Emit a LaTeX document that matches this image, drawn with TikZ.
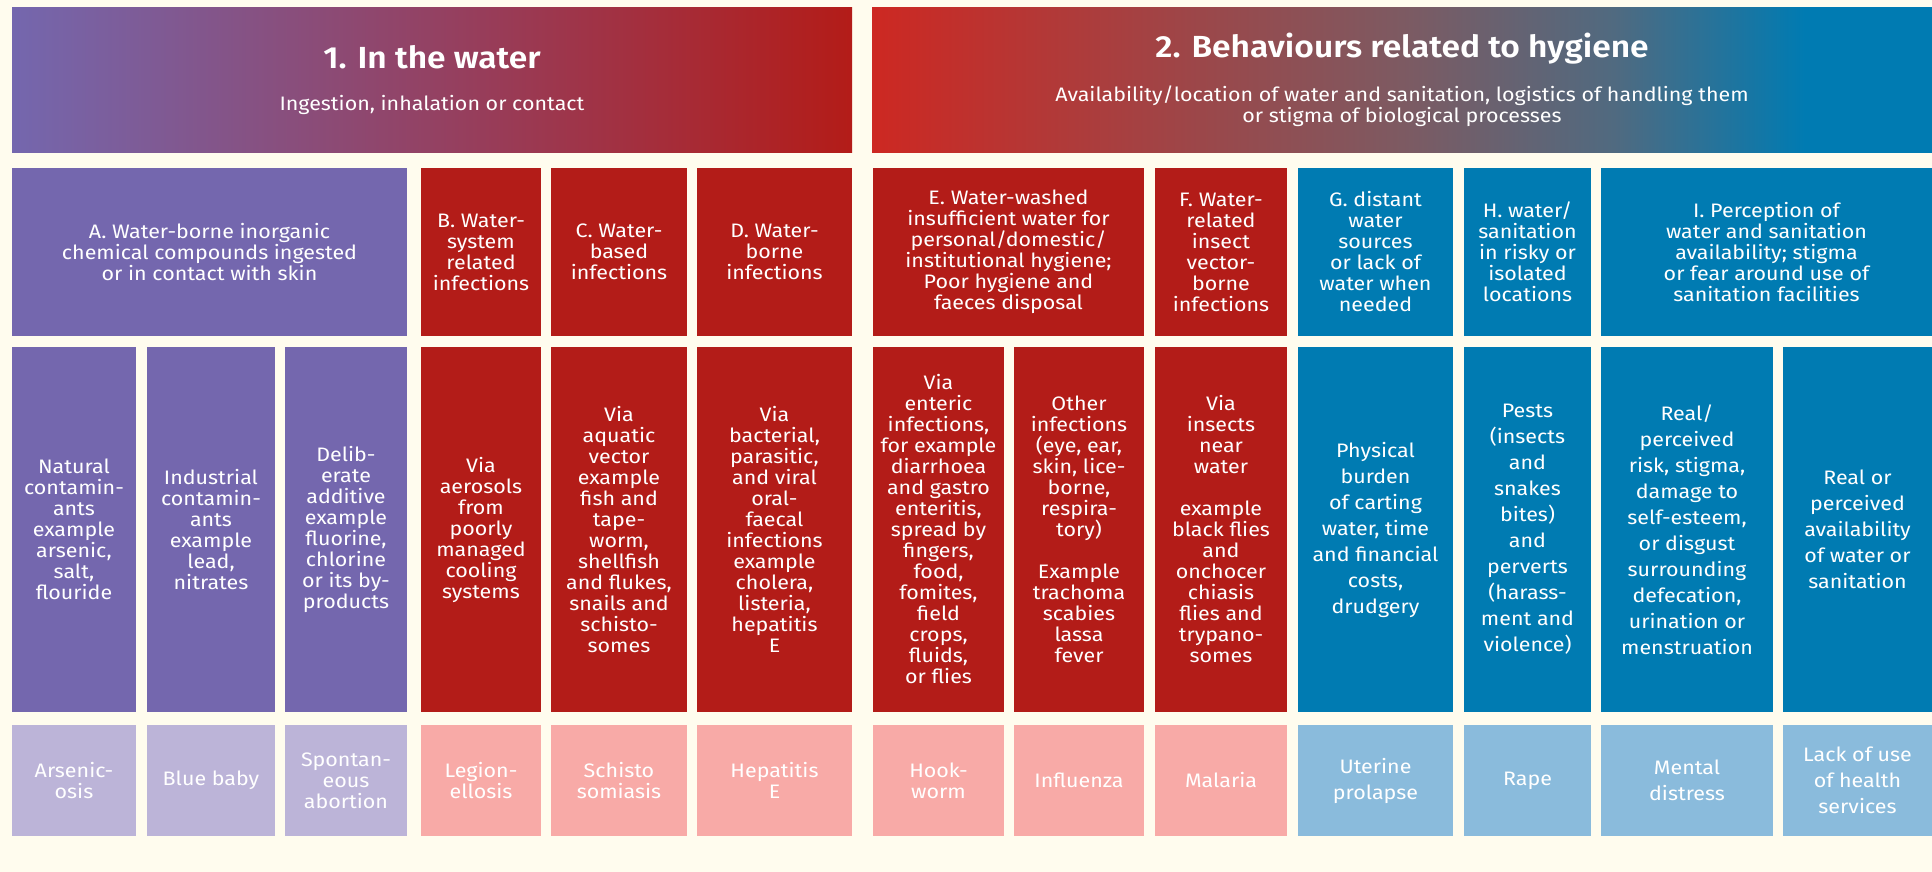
\documentclass[tikz,border=0pt]{standalone}
\usepackage{fontspec}
\setmainfont{Fira Sans}[FakeStretch=1.1,BoldFont={Fira Sans SemiBold}]
\usepackage{tikz}

\definecolor{purpA}{RGB}{116,103,174}
\definecolor{purpB}{RGB}{188,180,216}
\definecolor{redA}{RGB}{179,28,24}
\definecolor{redB}{RGB}{248,170,167}
\definecolor{blueA}{RGB}{0,123,178}
\definecolor{blueB}{RGB}{138,187,220}
\definecolor{cream}{RGB}{255,252,238}
\definecolor{hred}{RGB}{205,40,34}
\definecolor{hmid}{RGB}{125,90,98}
\definecolor{hmidb}{RGB}{80,106,128}
\pgfdeclarehorizontalshading{hygshade}{100bp}{color(0bp)=(hred); color(25bp)=(hred); color(50bp)=(hmid); color(60bp)=(hmidb); color(69bp)=(blueA); color(100bp)=(blueA)}

\newcommand\celltext{\fontsize{19.5}{21}\selectfont}
\newcommand\bluetext{\fontsize{19.5}{26}\selectfont}
\newcommand\headtitle{\fontsize{30.5}{34}\selectfont\bfseries}

\begin{document}
\begin{tikzpicture}[x=1pt,y=-1pt,
  cell/.style={rectangle,inner sep=0pt,text=white,align=center,font=\celltext},
  headbox/.style={cell,minimum height=144},
  catbox/.style={cell,minimum height=168},
  routebox/.style={cell,minimum height=365},
  effectbox/.style={cell,minimum height=111}]

\fill[cream] (0,0) rectangle (1932,872);

% Headers
\node[headbox,left color=purpA,right color=redA,minimum width=840] (water) at (432,80)
{{\headtitle 1. In the water}\\[21pt]Ingestion, inhalation or contact};
\node[headbox,shade,shading=hygshade,minimum width=1060] (hygiene) at (1402,80)
{{\headtitle 2. Behaviours related to hygiene}\\[21pt]Availability/location of water and sanitation, logistics of handling them\\or stigma of biological processes};

% Categories
\node[catbox,fill=purpA,minimum width=395] (catA) at (209.5,252) {A. Water-borne inorganic\\chemical compounds ingested\\or in contact with skin};
\node[catbox,fill=redA,minimum width=120] (catB) at (481,252) {B. Water-\\system\\related\\infections};
\node[catbox,fill=redA,minimum width=136] (catC) at (619,252) {C. Water-\\based\\infections};
\node[catbox,fill=redA,minimum width=155] (catD) at (774.5,252) {D. Water-\\borne\\infections};
\node[catbox,fill=redA,minimum width=271] (catE) at (1008.5,252) {E. Water-washed\\insufficient water for\\personal/domestic/\\institutional hygiene;\\Poor hygiene and\\faeces disposal};
\node[catbox,fill=redA,minimum width=132] (catF) at (1221,252) {F. Water-\\related\\insect\\vector-\\borne\\infections};
\node[catbox,fill=blueA,minimum width=155] (catG) at (1375.5,252) {G. distant\\water\\sources\\or lack of\\water when\\needed};
\node[catbox,fill=blueA,minimum width=127] (catH) at (1527.5,252) {H. water/\\sanitation\\in risky or\\isolated\\locations};
\node[catbox,fill=blueA,minimum width=331] (catI) at (1766.5,252) {I. Perception of\\water and sanitation\\availability; stigma\\or fear around use of\\sanitation facilities};

% Routes
\node[routebox,fill=purpA,minimum width=124] (routeAa) at (74,529.5) {Natural\\contamin-\\ants\\example\\arsenic,\\salt,\\flouride};
\node[routebox,fill=purpA,minimum width=128] (routeAb) at (211,529.5) {Industrial\\contamin-\\ants\\example\\lead,\\nitrates};
\node[routebox,fill=purpA,minimum width=122] (routeAc) at (346,529.5) {Delib-\\erate\\additive\\example\\fluorine,\\chlorine\\or its by-\\products};
\node[routebox,fill=redA,minimum width=120] (routeB) at (481,529.5) {Via\\aerosols\\from\\poorly\\managed\\cooling\\systems};
\node[routebox,fill=redA,minimum width=136] (routeC) at (619,529.5) {Via\\aquatic\\vector\\example\\fish and\\tape-\\worm,\\shellfish\\and flukes,\\snails and\\schisto-\\somes};
\node[routebox,fill=redA,minimum width=155] (routeD) at (774.5,529.5) {Via\\bacterial,\\parasitic,\\and viral\\oral-\\faecal\\infections\\example\\cholera,\\listeria,\\hepatitis\\E};
\node[routebox,fill=redA,minimum width=131] (routeEa) at (938.5,529.5) {Via\\enteric\\infections,\\for example\\diarrhoea\\and gastro\\enteritis,\\spread by\\fingers,\\food,\\fomites,\\field\\crops,\\fluids,\\or flies};
\node[routebox,fill=redA,minimum width=130] (routeEb) at (1079,529.5) {Other\\infections\\(eye, ear,\\skin, lice-\\borne,\\respira-\\tory)\\[21pt]Example\\trachoma\\scabies\\lassa\\fever};
\node[routebox,fill=redA,minimum width=132] (routeF) at (1221,529.5) {Via\\insects\\near\\water\\[21pt]example\\black flies\\and\\onchocer\\chiasis\\flies and\\trypano-\\somes};
\node[routebox,fill=blueA,font=\bluetext,minimum width=155] (routeG) at (1375.5,529.5) {Physical\\burden\\of carting\\water, time\\and financial\\costs,\\drudgery};
\node[routebox,fill=blueA,font=\bluetext,minimum width=127] (routeH) at (1527.5,529.5) {Pests\\(insects\\and\\snakes\\bites)\\and\\perverts\\(harass-\\ment and\\violence)};
\node[routebox,fill=blueA,font=\bluetext,minimum width=172] (routeIa) at (1687,529.5) {Real/\\perceived\\risk, stigma,\\damage to\\self-esteem,\\or disgust\\surrounding\\defecation,\\urination or\\menstruation};
\node[routebox,fill=blueA,font=\bluetext,minimum width=149] (routeIb) at (1857.5,529.5) {Real or\\perceived\\availability\\of water or\\sanitation};

% Health effects
\node[effectbox,fill=purpB,minimum width=124] (effAa) at (74,780.5) {Arsenic-\\osis};
\node[effectbox,fill=purpB,minimum width=128] (effAb) at (211,780.5) {Blue baby};
\node[effectbox,fill=purpB,minimum width=122] (effAc) at (346,780.5) {Spontan-\\eous\\abortion};
\node[effectbox,fill=redB,minimum width=120] (effB) at (481,780.5) {Legion-\\ellosis};
\node[effectbox,fill=redB,minimum width=136] (effC) at (619,780.5) {Schisto\\somiasis};
\node[effectbox,fill=redB,minimum width=155] (effD) at (774.5,780.5) {Hepatitis\\E};
\node[effectbox,fill=redB,minimum width=131] (effEa) at (938.5,780.5) {Hook-\\worm};
\node[effectbox,fill=redB,minimum width=130] (effEb) at (1079,780.5) {Influenza};
\node[effectbox,fill=redB,minimum width=132] (effF) at (1221,780.5) {Malaria};
\node[effectbox,fill=blueB,font=\bluetext,minimum width=155] (effG) at (1375.5,780.5) {Uterine\\prolapse};
\node[effectbox,fill=blueB,font=\bluetext,minimum width=127] (effH) at (1527.5,780.5) {Rape};
\node[effectbox,fill=blueB,font=\bluetext,minimum width=172] (effIa) at (1687,780.5) {Mental\\distress};
\node[effectbox,fill=blueB,font=\bluetext,minimum width=149] (effIb) at (1857.5,780.5) {Lack of use\\of health\\services};

\end{tikzpicture}
\end{document}
